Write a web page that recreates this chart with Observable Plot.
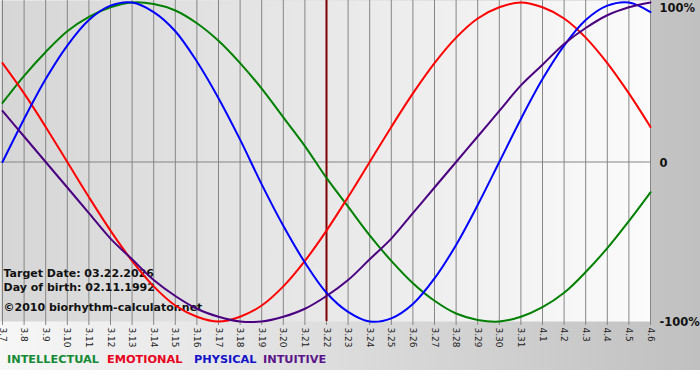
<!DOCTYPE html>
<html><head><meta charset="utf-8">
<script src="https://cdn.jsdelivr.net/npm/d3@7"></script>
<script src="https://cdn.jsdelivr.net/npm/@observablehq/plot@0.6"></script>
<style>
body{margin:0;background:#fff;}
#wrap{position:relative;width:700px;height:380px;overflow:hidden;background:#fff linear-gradient(to right,#f7f7f7,#c0c0c0) no-repeat;background-size:700px 370px;font-family:"DejaVu Sans",sans-serif;}
#chart svg{display:block;}
#legend{position:absolute;left:0;top:345px;width:700px;height:25px;font-weight:bold;font-size:11.3px;}
#legend span{position:absolute;top:8px;white-space:nowrap;}
</style></head>
<body><div id="wrap"><div id="chart"></div><div id="legend"></div></div>
<script>
const dates = ["3.7","3.8","3.9","3.10","3.11","3.12","3.13","3.14","3.15","3.16","3.17","3.18","3.19","3.20","3.21","3.22","3.23","3.24","3.25","3.26","3.27","3.28","3.29","3.30","3.31","4.1","4.2","4.3","4.4","4.5","4.6"];
const intellectual = [37,54,69,82,91,97,100,99,95,87,76,62,46,28,10,-10,-28,-46,-62,-76,-87,-95,-99,-100,-97,-91,-82,-69,-54,-37,-19];
const emotional = [62,43,22,0,-22,-43,-62,-78,-90,-97,-100,-97,-90,-78,-62,-43,-22,0,22,43,62,78,90,97,100,97,90,78,62,43,22];
const physical = [0,27,52,73,89,98,100,94,82,63,40,14,-14,-40,-63,-82,-94,-100,-98,-89,-73,-52,-27,0,27,52,73,89,98,100,94];
const intuitive = [32,16,0,-16,-32,-48,-61,-74,-84,-92,-97,-100,-100,-97,-92,-84,-74,-61,-48,-32,-16,0,16,32,48,61,74,84,92,97,100];
const seriesNames = ["INTELLECTUAL","EMOTIONAL","PHYSICAL","INTUITIVE"];
const lineColors = ["#008000","#ff0000","#0000ff","#4b0082"];
const legendColors = ["#158a35","#e8001c","#1414c8","#5a1688"];
const targetDate = "3.22";
const infoLines = ["Target Date: 03.22.2026","Day of birth: 02.11.1992","©2010 biorhythm-calculator.net"];
const yTicks = [100, 0, -100];
const yTickLabels = ["100%","0","-100%"];

const dayIndex = dates.map((d, i) => i);
const seriesValues = [intellectual, emotional, physical, intuitive];
const rows = seriesValues.map(vals => dates.map((d, i) => ({day: i, value: vals[i]})));

const chart = Plot.plot({
  width: 700, height: 345,
  marginLeft: 2, marginRight: 50, marginTop: 2, marginBottom: 24,
  style: {background: "transparent", fontFamily: "'DejaVu Sans', sans-serif", color: "#111", overflow: "visible"},
  x: {type: "linear", domain: [0, dates.length - 1], axis: null},
  y: {domain: [-100, 100], axis: null},
  marks: [
    Plot.frame({fill: "url(#plotbg)", stroke: "none", insetLeft: -2, insetTop: -2}),
    Plot.ruleX(dayIndex, {x: d => d, stroke: "#858585", insetTop: -2}),
    Plot.ruleY([0], {stroke: "#858585", insetLeft: -2}),
    Plot.axisX({ticks: dayIndex, tickFormat: i => dates[i], tickRotate: 90, fontSize: 9, tickSize: 4, tickPadding: 2, stroke: "#858585", fill: "#222", label: null}),
    Plot.text([infoLines[0]], {text: d => d, frameAnchor: "bottom-left", lineAnchor: "bottom", textAnchor: "start", dx: 1, dy: -45, fontWeight: "bold", fontSize: 11, fill: "#111"}),
    Plot.text([infoLines[1]], {text: d => d, frameAnchor: "bottom-left", lineAnchor: "bottom", textAnchor: "start", dx: 1, dy: -30.5, fontWeight: "bold", fontSize: 11, fill: "#111"}),
    Plot.text([infoLines[2]], {text: d => d, frameAnchor: "bottom-left", lineAnchor: "bottom", textAnchor: "start", dx: 1, dy: -10.5, fontWeight: "bold", fontSize: 11, fill: "#111"}),
    Plot.ruleX([dates.indexOf(targetDate)], {x: d => d, stroke: "#800000", strokeWidth: 2, insetTop: -2}),
    ...rows.map((r, k) => Plot.line(r, {x: "day", y: "value", stroke: lineColors[k], strokeWidth: 2, curve: "catmull-rom"})),
    Plot.text([yTicks[0]], {y: d => d, text: () => yTickLabels[0], frameAnchor: "right", textAnchor: "start", dx: 9, dy: 6, fontWeight: "bold", fontSize: 11.5, fill: "#111"}),
    Plot.text(yTicks.slice(1), {y: d => d, text: (d, i) => yTickLabels[i + 1], frameAnchor: "right", textAnchor: "start", dx: 9, dy: 1, fontWeight: "bold", fontSize: 11.5, fill: "#111"})
  ]
});

const defs = d3.select(chart).insert("defs", ":first-child");
const g = defs.append("linearGradient").attr("id", "plotbg").attr("x1", 0).attr("x2", 1).attr("y1", 0).attr("y2", 0);
g.append("stop").attr("offset", 0).attr("stop-color", "#d6d6d6");
g.append("stop").attr("offset", 1).attr("stop-color", "#fbfbfb");

document.getElementById("chart").appendChild(chart);

const legendLeft = [7, 107, 194, 263];
const legend = document.getElementById("legend");
seriesNames.forEach((name, k) => {
  const s = document.createElement("span");
  s.textContent = name;
  s.style.color = legendColors[k];
  s.style.left = legendLeft[k] + "px";
  legend.appendChild(s);
});
</script>
</body></html>
